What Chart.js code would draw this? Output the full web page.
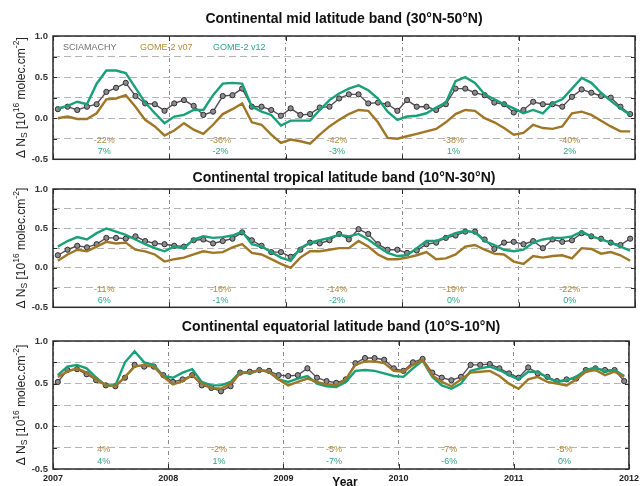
<!DOCTYPE html>
<html>
<head>
<meta charset="utf-8">
<script src="https://cdn.jsdelivr.net/npm/chart.js@4.4.1/dist/chart.umd.min.js"></script>
<style>
  body { margin: 0; background: #fff; }
  #wrap { position: relative; width: 643px; height: 486px; }
  canvas { position: absolute; left: 0; }
</style>
</head>
<body>
<div id="wrap">
  <canvas id="panel-mid" width="643" height="170" style="top:0px"></canvas>
  <canvas id="panel-trop" width="643" height="148" style="top:170px"></canvas>
  <canvas id="panel-equ" width="643" height="168" style="top:318px"></canvas>
</div>
<script>
// x axis: years, one point per month (mid-month)
const years = [2007, 2008, 2009, 2010, 2011, 2012];
const months = [];
for (let y = 2007; y < 2012; y++) {
  for (let m = 0; m < 12; m++) months.push(y + (m + 0.5) / 12);
}

const seriesNames = ["SCIAMACHY", "GOME-2 v07", "GOME-2 v12"];

// Continental mid latitude band (30N-50N)
const sciaMid = [
  0.11, 0.14, 0.10, 0.14, 0.17, 0.32, 0.37, 0.43, 0.27, 0.18, 0.17, 0.09,
  0.18, 0.22, 0.15, 0.04, 0.08, 0.27, 0.28, 0.36, 0.14, 0.14, 0.10, 0.03,
  0.12, 0.04, 0.05, 0.13, 0.14, 0.24, 0.29, 0.29, 0.18, 0.19, 0.17, 0.09,
  0.22, 0.14, 0.14, 0.10, 0.17, 0.36, 0.36, 0.31, 0.28, 0.19, 0.17, 0.07,
  0.10, 0.20, 0.17, 0.17, 0.14, 0.26, 0.35, 0.31, 0.27, 0.25, 0.14, 0.05,
];
const v07Mid = [
  0.00, 0.02, -0.01, -0.01, 0.06, 0.23, 0.24, 0.28, 0.14, -0.02, -0.10, -0.21,
  -0.15, -0.06, -0.14, -0.19, -0.08, 0.05, 0.11, 0.18, -0.05, -0.08, -0.20, -0.30,
  -0.26, -0.28, -0.31, -0.20, -0.10, -0.02, 0.05, 0.10, 0.09, -0.05, -0.24, -0.25,
  -0.22, -0.19, -0.16, -0.13, -0.05, 0.05, 0.10, 0.09, 0.00, -0.05, -0.12, -0.20,
  -0.18, -0.08, -0.12, -0.13, -0.10, 0.06, 0.08, 0.04, -0.03, -0.10, -0.16, -0.16,
];
const v12Mid = [
  0.12, 0.15, 0.20, 0.17, 0.42, 0.58, 0.58, 0.55, 0.37, 0.19, 0.06, -0.06,
  0.02, 0.04, 0.10, 0.10, 0.28, 0.42, 0.43, 0.42, 0.14, 0.08, 0.04, -0.09,
  -0.03, -0.03, -0.03, 0.10, 0.22, 0.30, 0.36, 0.40, 0.34, 0.24, 0.08, -0.02,
  0.02, 0.03, 0.06, 0.13, 0.19, 0.45, 0.50, 0.43, 0.29, 0.23, 0.17, 0.12,
  0.06, 0.10, 0.06, 0.18, 0.23, 0.36, 0.49, 0.43, 0.31, 0.21, 0.12, 0.04,
];
const pctV07Mid = ["-22%", "-36%", "-42%", "-38%", "-40%"];
const pctV12Mid = ["7%", "-2%", "-3%", "1%", "2%"];

// Continental tropical latitude band (10N-30N)
const sciaTrop = [
  0.16, 0.23, 0.28, 0.26, 0.30, 0.38, 0.38, 0.37, 0.40, 0.34, 0.31, 0.30,
  0.28, 0.27, 0.35, 0.36, 0.31, 0.34, 0.37, 0.45, 0.35, 0.28, 0.20, 0.20,
  0.14, 0.23, 0.32, 0.31, 0.35, 0.43, 0.36, 0.49, 0.43, 0.30, 0.23, 0.23,
  0.19, 0.22, 0.30, 0.32, 0.38, 0.41, 0.46, 0.46, 0.36, 0.24, 0.32, 0.33,
  0.30, 0.34, 0.25, 0.36, 0.33, 0.35, 0.44, 0.40, 0.37, 0.32, 0.29, 0.37,
];
const v07Trop = [
  0.09, 0.17, 0.23, 0.21, 0.27, 0.33, 0.31, 0.32, 0.23, 0.21, 0.17, 0.08,
  0.11, 0.13, 0.17, 0.21, 0.19, 0.20, 0.26, 0.30, 0.19, 0.17, 0.11, 0.05,
  0.00, 0.13, 0.21, 0.21, 0.23, 0.25, 0.25, 0.34, 0.27, 0.17, 0.11, 0.11,
  0.13, 0.16, 0.20, 0.11, 0.12, 0.17, 0.27, 0.29, 0.23, 0.18, 0.17, 0.08,
  0.05, 0.15, 0.13, 0.15, 0.16, 0.12, 0.25, 0.24, 0.18, 0.20, 0.16, 0.09,
];
const v12Trop = [
  0.27, 0.34, 0.39, 0.36, 0.44, 0.50, 0.46, 0.42, 0.36, 0.30, 0.25, 0.21,
  0.27, 0.25, 0.36, 0.40, 0.38, 0.39, 0.41, 0.46, 0.30, 0.27, 0.20, 0.13,
  0.09, 0.25, 0.32, 0.35, 0.38, 0.42, 0.40, 0.43, 0.36, 0.27, 0.19, 0.15,
  0.16, 0.25, 0.34, 0.34, 0.39, 0.44, 0.47, 0.45, 0.34, 0.29, 0.23, 0.21,
  0.23, 0.32, 0.36, 0.38, 0.38, 0.40, 0.46, 0.40, 0.36, 0.32, 0.27, 0.22,
];
const pctV07Trop = ["-11%", "-16%", "-14%", "-19%", "-22%"];
const pctV12Trop = ["6%", "-1%", "-2%", "0%", "0%"];

// Continental equatorial latitude band (10S-10N)
const sciaEqu = [
  0.52, 0.66, 0.67, 0.61, 0.54, 0.48, 0.47, 0.57, 0.72, 0.70, 0.70, 0.60,
  0.52, 0.55, 0.60, 0.48, 0.45, 0.41, 0.47, 0.63, 0.64, 0.66, 0.65, 0.60,
  0.59, 0.60, 0.68, 0.57, 0.53, 0.51, 0.55, 0.74, 0.80, 0.80, 0.78, 0.68,
  0.65, 0.75, 0.79, 0.63, 0.57, 0.54, 0.58, 0.72, 0.72, 0.73, 0.68, 0.62,
  0.57, 0.69, 0.62, 0.58, 0.53, 0.55, 0.56, 0.66, 0.68, 0.66, 0.66, 0.53,
];
const v07Equ = [
  0.58, 0.64, 0.68, 0.63, 0.55, 0.48, 0.47, 0.58, 0.70, 0.72, 0.70, 0.58,
  0.49, 0.53, 0.60, 0.50, 0.45, 0.44, 0.50, 0.62, 0.63, 0.66, 0.64, 0.55,
  0.48, 0.52, 0.56, 0.52, 0.49, 0.48, 0.55, 0.72, 0.76, 0.76, 0.74, 0.65,
  0.64, 0.72, 0.78, 0.60, 0.52, 0.47, 0.55, 0.63, 0.64, 0.65, 0.59, 0.50,
  0.44, 0.55, 0.58, 0.52, 0.50, 0.48, 0.55, 0.64, 0.66, 0.60, 0.64, 0.58,
];
const v12Equ = [
  0.60, 0.70, 0.72, 0.68, 0.57, 0.48, 0.48, 0.75, 0.88, 0.75, 0.72, 0.59,
  0.57, 0.63, 0.67, 0.52, 0.48, 0.48, 0.52, 0.64, 0.62, 0.66, 0.64, 0.55,
  0.52, 0.56, 0.59, 0.50, 0.47, 0.46, 0.52, 0.65, 0.66, 0.65, 0.62, 0.59,
  0.58, 0.68, 0.77, 0.58, 0.48, 0.44, 0.50, 0.65, 0.68, 0.70, 0.66, 0.60,
  0.55, 0.64, 0.64, 0.57, 0.52, 0.54, 0.58, 0.66, 0.69, 0.64, 0.66, 0.59,
];
const pctV07Equ = ["4%", "-2%", "-5%", "-7%", "-5%"];
const pctV12Equ = ["4%", "1%", "-7%", "-6%", "0%"];

const colorScia = "#5a4b5c";
const colorV07 = "#9f7625";
const colorV12 = "#18a077";
const textV07 = "#b08a3e";
const textV12 = "#2aa582";
const FONT = '"Liberation Sans", Arial, sans-serif';

function toPoints(values) {
  return months.map((x, i) => ({ x: x, y: values[i] }));
}

// titles, y label, percentages, legend text
const panelText = {
  id: "panelText",
  afterDraw(chart, args, opts) {
    const ctx = chart.ctx;
    const area = chart.chartArea;
    const xs = chart.scales.x;
    const ys = chart.scales.y;
    ctx.save();

    // title
    ctx.fillStyle = "#111";
    ctx.font = "bold 14px " + FONT;
    ctx.textAlign = "center";
    ctx.textBaseline = "middle";
    ctx.fillText(opts.title, (area.left + area.right) / 2, opts.titleY);

    // percentages per year
    ctx.font = "9px " + FONT;
    for (let i = 0; i < 5; i++) {
      const px = xs.getPixelForValue(years[i] + 0.44);
      ctx.fillStyle = textV07;
      ctx.fillText(opts.pctV07[i], px, ys.getPixelForValue(-0.27));
      ctx.fillStyle = textV12;
      ctx.fillText(opts.pctV12[i], px, ys.getPixelForValue(-0.41));
    }

    // in-plot legend (first panel only)
    if (opts.legend) {
      ctx.textAlign = "left";
      ctx.font = "9px " + FONT;
      const ly = ys.getPixelForValue(0.86);
      ctx.fillStyle = "#707070";
      ctx.fillText(seriesNames[0], 63, ly);
      ctx.fillStyle = textV07;
      ctx.fillText(seriesNames[1], 140, ly);
      ctx.fillStyle = textV12;
      ctx.fillText(seriesNames[2], 213, ly);
    }

    // y axis label with sub/superscripts
    const parts = [
      ["\u0394 N", 0, 12],
      ["S", 3, 8.5],
      [" [10", 0, 12],
      ["16", -5, 8.5],
      [" molec.cm", 0, 12],
      ["-2", -5, 8.5],
      ["]", 0, 12],
    ];
    let total = 0;
    parts.forEach(p => {
      ctx.font = p[2] + "px " + FONT;
      p.push(ctx.measureText(p[0]).width);
      total += p[3];
    });
    ctx.translate(22, (area.top + area.bottom) / 2);
    ctx.rotate(-Math.PI / 2);
    ctx.fillStyle = "#222";
    ctx.textAlign = "left";
    let cx = -total / 2;
    parts.forEach(p => {
      ctx.font = p[2] + "px " + FONT;
      ctx.fillText(p[0], cx, p[1]);
      cx += p[3];
    });
    ctx.restore();

    if (opts.xTitle) {
      ctx.save();
      ctx.fillStyle = "#111";
      ctx.font = "bold 12px " + FONT;
      ctx.textAlign = "center";
      ctx.textBaseline = "middle";
      ctx.fillText(opts.xTitle, 345, chart.height - 3);
      ctx.restore();
    }
  },
};

// box round the plot with small inward ticks
const frame = {
  id: "frame",
  afterDatasetsDraw(chart) {
    const ctx = chart.ctx;
    const a = chart.chartArea;
    const xs = chart.scales.x;
    const ys = chart.scales.y;
    ctx.save();
    ctx.strokeStyle = "#2b2b2b";
    ctx.lineWidth = 1;
    ys.ticks.forEach(t => {
      const py = Math.round(ys.getPixelForValue(t.value)) + 0.5;
      ctx.beginPath();
      ctx.moveTo(a.left, py); ctx.lineTo(a.left + 4, py);
      ctx.moveTo(a.right, py); ctx.lineTo(a.right - 4, py);
      ctx.stroke();
    });
    years.forEach(v => {
      const px = Math.round(xs.getPixelForValue(v)) + 0.5;
      ctx.beginPath();
      ctx.moveTo(px, a.bottom); ctx.lineTo(px, a.bottom - 5);
      ctx.moveTo(px, a.top); ctx.lineTo(px, a.top + 5);
      ctx.stroke();
    });
    ctx.lineWidth = 1.5;
    ctx.strokeRect(a.left, a.top, a.right - a.left, a.bottom - a.top);
    ctx.restore();
  },
};

function makePanel(id, scia, v07, v12, text, layout) {
  const ctx = document.getElementById(id).getContext("2d");
  return new Chart(ctx, {
    type: "line",
    data: {
      datasets: [
        {
          label: seriesNames[1],
          data: toPoints(v07),
          borderColor: colorV07,
          borderWidth: 2.4,
          pointRadius: 0,
        },
        {
          label: seriesNames[2],
          data: toPoints(v12),
          borderColor: colorV12,
          borderWidth: 2.4,
          pointRadius: 0,
        },
        {
          label: seriesNames[0],
          data: toPoints(scia),
          borderColor: colorScia,
          borderWidth: 1.4,
          pointRadius: 2.6,
          pointBackgroundColor: "#8c8c8c",
          pointBorderColor: "#2e2e2e",
          pointBorderWidth: 1,
        },
      ],
    },
    options: {
      responsive: false,
      animation: false,
      events: [],
      layout: {
        autoPadding: false,
        padding: { left: 0, right: 8, top: layout.top, bottom: layout.bottom },
      },
      elements: { line: { tension: 0 } },
      plugins: {
        legend: { display: false },
        tooltip: { enabled: false },
        panelText: text,
      },
      scales: {
        x: {
          type: "linear",
          min: 2007,
          max: 2012,
          afterBuildTicks: s => { s.ticks = years.map(v => ({ value: v })); },
          afterFit: s => { s.height = layout.showX ? 17 : 0; },
          grid: { color: "#8a8a8a", lineWidth: 1, drawTicks: false },
          border: { display: false, dash: [4, 3, 1, 3] },
          ticks: {
            display: layout.showX,
            padding: 4,
            maxRotation: 0,
            color: "#222",
            font: { family: FONT, size: 9, weight: "bold" },
            callback: v => String(v),
          },
        },
        y: {
          min: -0.5,
          max: 1.0,
          afterFit: s => { s.width = 53; },
          grid: { color: "#b4b4b4", lineWidth: 1, drawTicks: false },
          border: { display: false, dash: [7, 4] },
          ticks: {
            stepSize: 0.25,
            padding: 5,
            color: "#333",
            font: { family: FONT, size: 9.5, weight: "bold" },
            callback: v => (Math.round(v * 100) % 50 === 0 ? v.toFixed(1) : ""),
          },
        },
      },
    },
    plugins: [frame, panelText],
  });
}

makePanel("panel-mid", sciaMid, v07Mid, v12Mid,
  { title: "Continental mid latitude band (30\u00b0N-50\u00b0N)", titleY: 19,
    pctV07: pctV07Mid, pctV12: pctV12Mid, legend: true },
  { top: 36, bottom: 6, showX: false });

makePanel("panel-trop", sciaTrop, v07Trop, v12Trop,
  { title: "Continental tropical latitude band (10\u00b0N-30\u00b0N)", titleY: 8,
    pctV07: pctV07Trop, pctV12: pctV12Trop },
  { top: 19, bottom: 1, showX: false });

makePanel("panel-equ", sciaEqu, v07Equ, v12Equ,
  { title: "Continental equatorial latitude band (10\u00b0S-10\u00b0N)", titleY: 9,
    pctV07: pctV07Equ, pctV12: pctV12Equ, xTitle: "Year" },
  { top: 23, bottom: 0, showX: true });
</script>
</body>
</html>
